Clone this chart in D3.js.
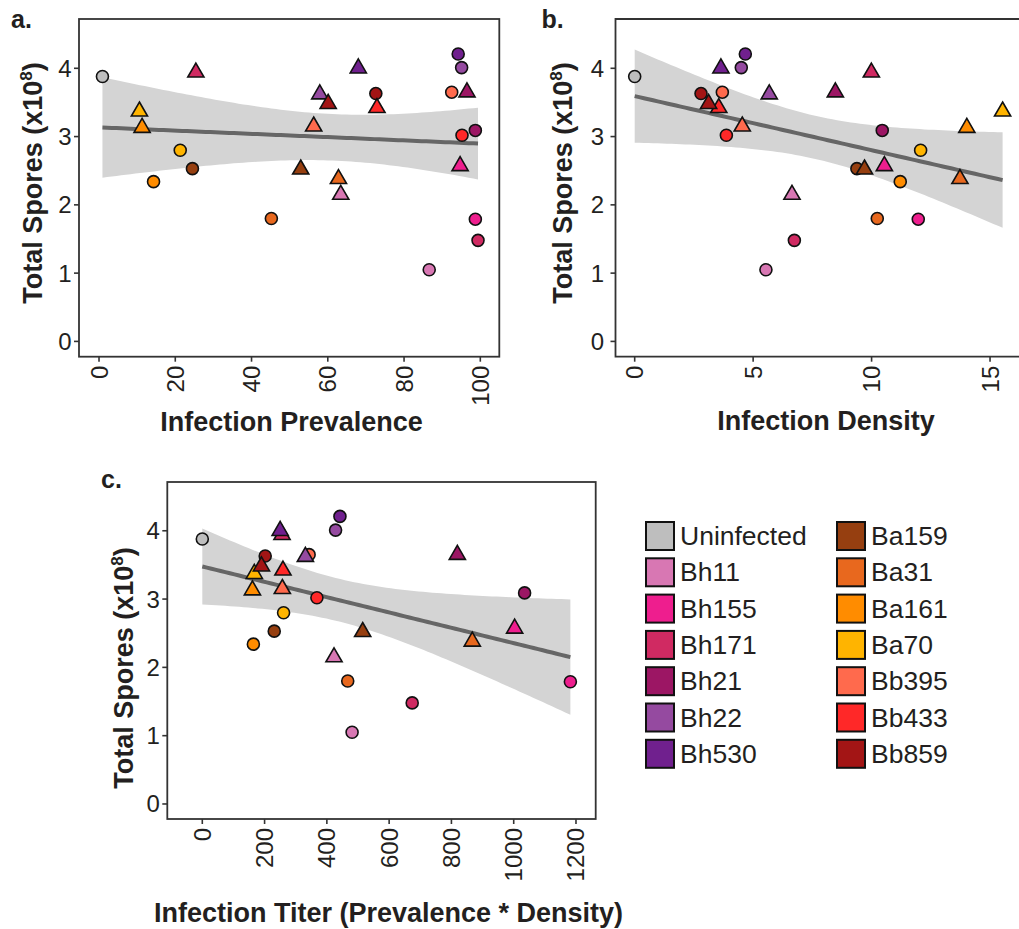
<!DOCTYPE html>
<html>
<head>
<meta charset="utf-8">
<script src="https://cdn.jsdelivr.net/npm/d3@7"></script>
<style>
  html, body { margin: 0; padding: 0; background: #ffffff; }
  svg { display: block; font-family: "Liberation Sans", Arial, sans-serif; }
</style>
</head>
<body>
<svg id="chart" width="1019" height="929"></svg>
<script>
// ---------- DATA ----------
const strains = ["Uninfected","Bh11","Bh155","Bh171","Bh21","Bh22","Bh530","Ba159","Ba31","Ba161","Ba70","Bb395","Bb433","Bb859"];
const strainColors = ["#bebebe","#d877b3","#ee1e8e","#d02a62","#9c1664","#954aa0","#70208e","#963f10","#e8681e","#ff8c00","#ffb400","#ff6a4d","#ff2828","#a31515"];

// one entry per point
const pointStrain = ["Uninfected","Bh11","Bh11","Bh155","Bh155","Bh171","Bh171","Bh21","Bh21","Bh22","Bh22","Bh530","Bh530",
                     "Ba159","Ba159","Ba31","Ba31","Ba161","Ba161","Ba70","Ba70","Bb395","Bb395","Bb433","Bb433","Bb859","Bb859"];
const pointShape  = ["circle","circle","triangle","circle","triangle","circle","triangle","circle","triangle","circle","triangle","circle","triangle",
                     "circle","triangle","circle","triangle","circle","triangle","circle","triangle","circle","triangle","circle","triangle","circle","triangle"];
const totalSpores = [3.88,1.05,2.15,1.79,2.57,1.48,3.94,3.09,3.65,4.01,3.62,4.21,4.00,
                     2.53,2.52,1.80,2.38,2.34,3.13,2.80,3.37,3.65,3.15,3.02,3.42,3.63,3.48];
const prevalence  = [0.9,86.6,63.4,98.7,94.7,99.4,25.4,98.7,96.5,95.1,57.9,94.2,68.0,
                     24.5,52.9,45.2,62.8,14.3,11.3,21.3,10.6,92.5,56.3,95.2,72.9,72.6,60.1];
const density     = [0.0,5.54,6.64,11.97,10.54,6.74,9.99,10.45,8.47,4.50,5.68,4.67,3.64,
                     9.38,9.70,10.24,13.73,11.21,14.02,12.07,15.53,3.70,4.54,3.87,3.55,2.80,3.12];
const titer       = [0,481,423,1182,1003,674,256,1035,819,428,331,442,250,
                     231,515,467,867,164,161,261,167,343,257,368,259,202,190];

const yTicks = [0,1,2,3,4];
const xTicksA = [0,20,40,60,80,100];
const xTicksB = [0,5,10,15];
const xTicksC = [0,200,400,600,800,1000,1200];

// ---------- SETUP ----------
const svg = d3.select("#chart");
svg.append("rect").attr("width",1019).attr("height",929).attr("fill","#fff");
const color = d3.scaleOrdinal().domain(strains).range(strainColors);
const textColor = "#231f20";
const axisColor = "#333333";
const T_CRIT = 2.0595; // t(0.975, df = 25)

function fitLine(xs, ys) {
  const n = xs.length;
  const mx = d3.mean(xs), my = d3.mean(ys);
  let sxx = 0, sxy = 0;
  for (let i = 0; i < n; i++) { sxx += (xs[i]-mx)**2; sxy += (xs[i]-mx)*(ys[i]-my); }
  const b = sxy / sxx, a = my - b*mx;
  let sse = 0;
  for (let i = 0; i < n; i++) sse += (ys[i] - (a + b*xs[i]))**2;
  const s = Math.sqrt(sse/(n-2));
  const x0 = d3.min(xs), x1 = d3.max(xs);
  const pts = d3.range(0, 81).map(k => {
    const x = x0 + (x1-x0)*k/80;
    const yh = a + b*x;
    const se = s*Math.sqrt(1/n + (x-mx)**2/sxx);
    return {x, y: yh, lo: yh - T_CRIT*se, hi: yh + T_CRIT*se};
  });
  return pts;
}

function trianglePath(r) {
  const xc = 1.3468*r, top = 1.5551*r, bot = 0.7776*r;
  return `M0,${-top}L${xc},${bot}L${-xc},${bot}Z`;
}

let clipId = 0;
function drawPanel(cfg) {
  const g = svg.append("g");
  const x = d3.scaleLinear().domain(cfg.xDomain).range([cfg.left, cfg.right]);
  const y = d3.scaleLinear().domain(cfg.yDomain).range([cfg.bottom, cfg.top]);
  const id = "clip" + (clipId++);
  svg.append("clipPath").attr("id", id).append("rect")
    .attr("x", cfg.left).attr("y", cfg.top).attr("width", cfg.right-cfg.left).attr("height", cfg.bottom-cfg.top);
  const plot = g.append("g").attr("clip-path", `url(#${id})`);

  // smooth
  const fit = fitLine(cfg.xs, totalSpores);
  plot.append("path").datum(fit)
    .attr("d", d3.area().x(d => x(d.x)).y0(d => y(d.lo)).y1(d => y(d.hi)))
    .attr("fill", "#d4d4d4");
  plot.append("path").datum(fit)
    .attr("d", d3.line().x(d => x(d.x)).y(d => y(d.y)))
    .attr("fill", "none").attr("stroke", "#666666").attr("stroke-width", 4);

  // points
  const idx = d3.range(cfg.xs.length);
  const order = idx.filter(i => pointShape[i]==="circle").concat(idx.filter(i => pointShape[i]==="triangle"));
  const r = 6;
  order.forEach(i => {
    const px = x(cfg.xs[i]), py = y(totalSpores[i]);
    if (pointShape[i] === "circle") {
      plot.append("circle").attr("cx", px).attr("cy", py).attr("r", r)
        .attr("fill", color(pointStrain[i])).attr("stroke", "#111").attr("stroke-width", 1.6);
    } else {
      plot.append("path").attr("d", trianglePath(r)).attr("transform", `translate(${px},${py})`)
        .attr("fill", color(pointStrain[i])).attr("stroke", "#111").attr("stroke-width", 1.6)
        .attr("stroke-linejoin", "miter");
    }
  });

  // border
  const bw = 1.8;
  if (cfg.fullBox) {
    g.append("rect").attr("x", cfg.left).attr("y", cfg.top)
      .attr("width", cfg.right-cfg.left).attr("height", cfg.bottom-cfg.top)
      .attr("fill", "none").attr("stroke", axisColor).attr("stroke-width", bw);
  } else {
    g.append("path").attr("d", `M${cfg.right},${cfg.top}H${cfg.left}V${cfg.bottom}H${cfg.right}`)
      .attr("fill", "none").attr("stroke", axisColor).attr("stroke-width", bw);
  }

  // y axis
  yTicks.forEach(t => {
    g.append("line").attr("x1", cfg.left-5).attr("x2", cfg.left).attr("y1", y(t)).attr("y2", y(t))
      .attr("stroke", axisColor).attr("stroke-width", 1.6);
    g.append("text").attr("x", cfg.left - cfg.yLabelGap).attr("y", y(t))
      .attr("text-anchor", "end").attr("dominant-baseline", "central")
      .attr("font-size", 24).attr("fill", textColor).text(t);
  });
  // x axis
  cfg.xTicks.forEach(t => {
    g.append("line").attr("x1", x(t)).attr("x2", x(t)).attr("y1", cfg.bottom).attr("y2", cfg.bottom+5)
      .attr("stroke", axisColor).attr("stroke-width", 1.6);
    g.append("text").attr("transform", `translate(${x(t)},${cfg.bottom+9}) rotate(-90)`)
      .attr("text-anchor", "end").attr("dominant-baseline", "central")
      .attr("font-size", 24).attr("fill", textColor).text(t);
  });

  // titles
  g.append("text").attr("x", cfg.xTitleX).attr("y", cfg.xTitleY).attr("text-anchor", "middle")
    .attr("font-size", 27).attr("font-weight", "bold").attr("fill", textColor).text(cfg.xTitle);
  const yt = g.append("text").attr("transform", `translate(${cfg.yTitleX},${cfg.yTitleY}) rotate(-90)`)
    .attr("text-anchor", "middle").attr("font-size", 27).attr("font-weight", "bold").attr("fill", textColor);
  yt.append("tspan").text("Total Spores (x10");
  yt.append("tspan").attr("font-size", 17).attr("dy", -10).text("8");
  yt.append("tspan").attr("dy", 10).text(")");

  g.append("text").attr("x", cfg.tagX).attr("y", cfg.tagY).attr("font-size", 25).attr("font-weight", "bold")
    .attr("fill", textColor).text(cfg.tag);
}

drawPanel({
  tag: "a.", tagX: 11, tagY: 28,
  xs: prevalence, xDomain: [-5.25, 104.98], yDomain: [-0.224, 4.722],
  left: 79, right: 499.3, top: 19, bottom: 356.7, fullBox: true,
  xTicks: xTicksA, yLabelGap: 7.5,
  xTitle: "Infection Prevalence", xTitleX: 291.5, xTitleY: 430.5,
  yTitleX: 41.5, yTitleY: 183
});
drawPanel({
  tag: "b.", tagX: 541.5, tagY: 28,
  xs: density, xDomain: [-0.81, 16.94], yDomain: [-0.224, 4.722],
  left: 615.5, right: 1036, top: 19, bottom: 356.7, fullBox: false,
  xTicks: xTicksB, yLabelGap: 11.5,
  xTitle: "Infection Density", xTitleX: 826, xTitleY: 430,
  yTitleX: 572, yTitleY: 183
});
drawPanel({
  tag: "c.", tagX: 101, tagY: 488,
  xs: titer, xDomain: [-112.4, 1263.3], yDomain: [-0.22, 4.714],
  left: 167.3, right: 595.7, top: 482, bottom: 819, fullBox: true,
  xTicks: xTicksC, yLabelGap: 7.5,
  xTitle: "Infection Titer (Prevalence * Density)", xTitleX: 388.5, xTitleY: 921.5,
  yTitleX: 133.3, yTitleY: 668
});

// ---------- LEGEND ----------
const legend = svg.append("g");
strains.forEach((s, i) => {
  const col = i < 7 ? 0 : 1;
  const row = i % 7;
  const sx = col === 0 ? 646 : 837;
  const sy = 522 + row*36.3;
  legend.append("rect").attr("x", sx).attr("y", sy).attr("width", 28).attr("height", 28)
    .attr("fill", color(s)).attr("stroke", "#111").attr("stroke-width", 2);
  legend.append("text").attr("x", sx + 34).attr("y", sy + 14).attr("dominant-baseline", "central")
    .attr("font-size", 26.5).attr("fill", textColor).text(s);
});
</script>
</body>
</html>
